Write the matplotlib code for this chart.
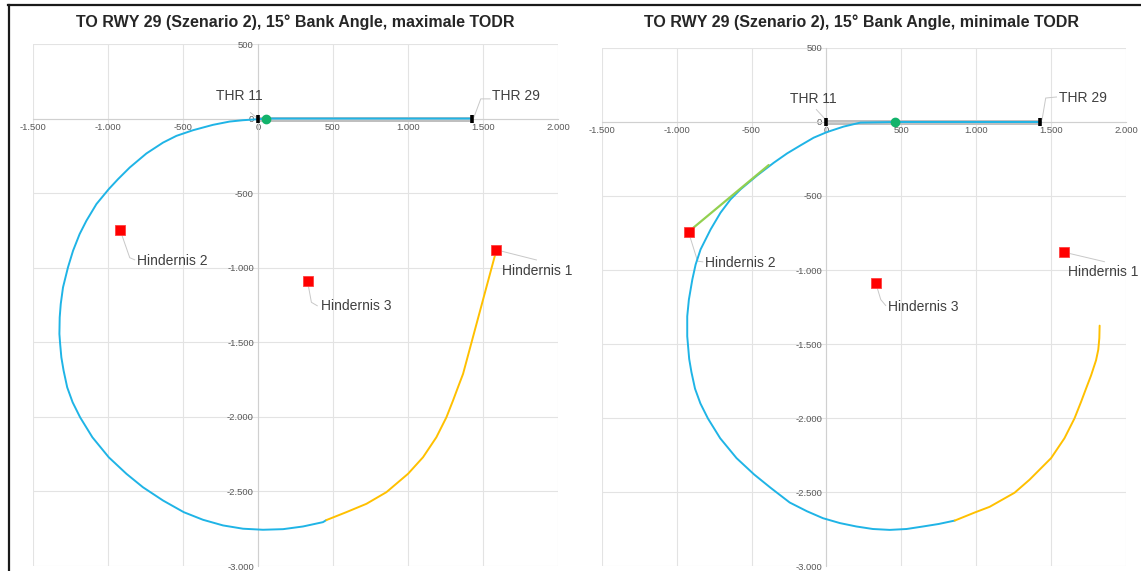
import matplotlib
matplotlib.use('Agg')
import matplotlib.pyplot as plt
from matplotlib.ticker import FuncFormatter, FixedLocator
from matplotlib.lines import Line2D

plt.rcParams['font.family'] = ['Liberation Sans', 'DejaVu Sans']

# ---------------- data ----------------
titles = ['TO RWY 29 (Szenario 2), 15° Bank Angle, maximale TODR',
          'TO RWY 29 (Szenario 2), 15° Bank Angle, minimale TODR']

x_ticks = [-1500, -1000, -500, 0, 500, 1000, 1500, 2000]
y_ticks = [-3000, -2500, -2000, -1500, -1000, -500, 0, 500]

thr_names = ['THR 11', 'THR 29']
thr_x = [0, 1425]
thr_y = [0, 0]

obst_names = ['Hindernis 1', 'Hindernis 2', 'Hindernis 3']
obst_x = [1588, -920, 330]
obst_y = [-880, -745, -1090]

# maximale TODR
max_liftoff_x = [50]
max_liftoff_y = [0]
max_blue_x = [1425, 50, 5, -100, -189, -300, -433, -544, -633, -744, -855, -933, -995,
              -1077, -1144, -1189, -1233, -1267, -1300, -1315, -1322, -1324, -1319,
              -1311, -1296, -1272, -1236, -1186, -1104, -995, -877, -767, -633, -495,
              -367, -233, -100, 33, 167, 300, 433, 456]
max_blue_y = [0, 0, -4, -11, -20, -42, -78, -116, -161, -234, -328, -406, -473,
              -573, -685, -774, -886, -998, -1132, -1243, -1333, -1444, -1511,
              -1601, -1690, -1802, -1902, -2003, -2137, -2271, -2382, -2472, -2561, -2639,
              -2690, -2728, -2750, -2757, -2753, -2735, -2706, -2692]
max_yellow_x = [456, 589, 723, 856, 1000, 1100, 1189, 1256, 1300, 1333, 1367, 1589]
max_yellow_y = [-2692, -2639, -2583, -2505, -2382, -2271, -2137, -2003, -1891, -1802, -1712, -883]

# minimale TODR
min_liftoff_x = [455]
min_liftoff_y = [0]
min_blue_x = [1430, 455, 227, 115, 4, -85, -173, -262, -351, -462, -573, -640, -707,
              -773, -840, -873, -895, -918, -929, -929, -916, -901, -877, -841, -791,
              -709, -600, -482, -372, -245, -130, -23, 90, 200, 310, 423, 535, 645, 750, 857]
min_blue_y = [0, 0, -4, -31, -68, -106, -158, -212, -275, -361, -455, -523, -613,
              -726, -861, -963, -1064, -1200, -1313, -1448, -1601, -1690, -1802, -1902, -2003,
              -2137, -2271, -2382, -2472, -2571, -2630, -2677, -2710, -2733, -2750, -2756,
              -2750, -2733, -2716, -2693]
min_yellow_x = [857, 989, 1090, 1256, 1356, 1500, 1589, 1656, 1700, 1733, 1767, 1800,
                1815, 1822, 1824]
min_yellow_y = [-2693, -2639, -2600, -2505, -2417, -2271, -2137, -2003, -1891, -1802, -1712,
                -1610, -1538, -1460, -1376]
min_green_x = [-922, -385]
min_green_y = [-743, -291]

# ---------------- style ----------------
W, H = 1141, 571
BLUE = '#1fb4e6'
YELLOW = '#ffc000'
LGREEN = '#92d050'
DOT = '#12b36b'
RWY = '#bfbfbf'
GRID = '#e3e3e3'
TXT = '#404040'
TICK = '#595959'
LEAD = '#c8c8c8'

fig = plt.figure(figsize=(W / 100, H / 100), dpi=100)


def px_axes(x0, x1, y0, y1):
    return fig.add_axes([x0 / W, 1 - y1 / H, (x1 - x0) / W, (y1 - y0) / H])


fmt = FuncFormatter(lambda v, p: f'{int(v):,}'.replace(',', '.'))


def setup(ax):
    ax.set_xlim(-1500, 2000)
    ax.set_ylim(-3000, 500)
    ax.xaxis.set_major_locator(FixedLocator(x_ticks))
    ax.yaxis.set_major_locator(FixedLocator(y_ticks))
    ax.xaxis.set_major_formatter(fmt)
    ax.yaxis.set_major_formatter(fmt)
    ax.grid(True, color=GRID, lw=0.8, zorder=0)
    ax.set_axisbelow(True)
    for s in ['top', 'right']:
        ax.spines[s].set_visible(False)
    ax.spines['left'].set_position(('data', 0))
    ax.spines['bottom'].set_position(('data', 0))
    ax.spines['left'].set_color('#d0d0d0')
    ax.spines['bottom'].set_color('#d0d0d0')
    ax.spines['left'].set_linewidth(0.8)
    ax.spines['bottom'].set_linewidth(0.8)
    ax.tick_params(length=0, labelsize=6.8, labelcolor=TICK, pad=3)
    ax.patch.set_alpha(0)


def draw_common(ax):
    ax.plot(thr_x, thr_y, color=RWY, lw=3.6, solid_capstyle='butt', zorder=2)


def draw_markers(ax, lx, ly):
    ax.plot(thr_x, thr_y, ls='none', marker='|', ms=5.5, mew=2.6, color='black', zorder=6)
    ax.plot(lx, ly, ls='none', marker='o', ms=6, color=DOT, zorder=7)
    ax.plot(obst_x, obst_y, ls='none', marker='s', ms=7.4, mfc='#ff0000', mec='#ff4040',
            mew=0.6, zorder=7)


def label(ax, text, tx, ty, leader, ha='left'):
    lx = [p[0] for p in leader]
    ly = [p[1] for p in leader]
    ax.plot(lx, ly, color=LEAD, lw=0.7, zorder=3)
    ax.text(tx, ty, text, ha=ha, va='center', fontsize=10, color=TXT, zorder=8)


def curve(ax, xs, ys, color, lw=1.4, z=4):
    ax.plot(xs, ys, color=color, lw=lw, zorder=z, solid_joinstyle='round',
            solid_capstyle='round')


# left panel
ax1 = px_axes(33, 558, 44, 566)
setup(ax1)
draw_common(ax1)
curve(ax1, max_blue_x, max_blue_y, BLUE)
curve(ax1, max_yellow_x, max_yellow_y, YELLOW)
draw_markers(ax1, max_liftoff_x, max_liftoff_y)
label(ax1, thr_names[0], -124, 150, [(-50, 40), (-7, 4)], ha='center')
label(ax1, thr_names[1], 1720, 150, [(1440, 10), (1485, 132), (1547, 132)], ha='center')
label(ax1, obst_names[0], 1858, -1020, [(obst_x[0], obst_y[0]), (1856, -948)], ha='center')
label(ax1, obst_names[1], -805, -953, [(obst_x[1], obst_y[1]), (-855, -933), (-822, -947)])
label(ax1, obst_names[2], 418, -1255, [(obst_x[2], obst_y[2]), (356, -1232), (395, -1255)])

# right panel
ax2 = px_axes(601.7, 1126, 48, 566)
setup(ax2)
draw_common(ax2)
curve(ax2, min_blue_x, min_blue_y, BLUE)
curve(ax2, min_yellow_x, min_yellow_y, YELLOW)
curve(ax2, min_green_x, min_green_y, LGREEN, lw=1.6, z=5)
draw_markers(ax2, min_liftoff_x, min_liftoff_y)
label(ax2, thr_names[0], -90, 158, [(-67, 84), (-7, 18)], ha='center')
label(ax2, thr_names[1], 1710, 165, [(1440, 18), (1464, 162), (1536, 169)], ha='center')
label(ax2, obst_names[0], 1849, -1015, [(obst_x[0], obst_y[0]), (1856, -944)], ha='center')
label(ax2, obst_names[1], -811, -951, [(obst_x[1], obst_y[1]), (-860, -940), (-825, -945)])
label(ax2, obst_names[2], 408, -1247, [(obst_x[2], obst_y[2]), (363, -1200), (396, -1240)])

# titles
fig.text(295 / W, 1 - 22 / H, titles[0], ha='center', va='center', fontsize=11.5,
         fontweight='bold', color='#262626')
fig.text(862 / W, 1 - 22 / H, titles[1], ha='center', va='center', fontsize=11.5,
         fontweight='bold', color='#262626')

# frame lines of the document screenshot
fig.add_artist(Line2D([8.5 / W, 8.5 / W], [0, 1 - 5 / H], color='#1a1a1a', lw=1.6))
fig.add_artist(Line2D([8 / W, 1], [1 - 5 / H, 1 - 5 / H], color='#1a1a1a', lw=1.6))

fig.savefig('out.png', dpi=100)
